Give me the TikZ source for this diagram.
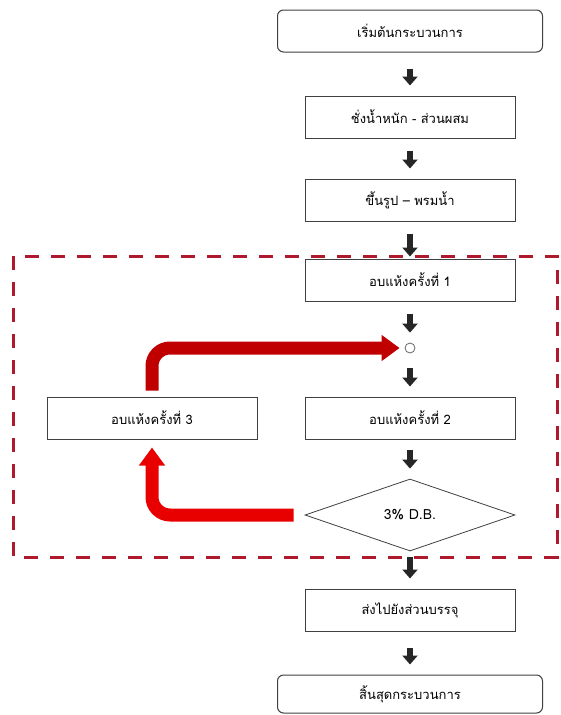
\documentclass[tikz,border=0pt]{standalone}
\usepackage{fontspec}
\setmainfont[Script=Thai]{Loma}
\usetikzlibrary{positioning,shapes.geometric,arrows.meta}

\definecolor{loopdark}{RGB}{192,0,0}
\definecolor{loopred}{RGB}{232,0,0}
\definecolor{framered}{RGB}{175,25,45}

\tikzstyle{proc-block}=[draw=black!75,line width=1pt,fill=white,minimum width=210pt,minimum height=42pt,inner sep=2pt,font=\fontsize{13}{15}\selectfont]
\tikzstyle{term-block}=[proc-block,rounded corners=6pt,minimum width=265pt]
\tikzstyle{test-block}=[draw=black!75,line width=0.8pt,fill=white,diamond,aspect=2.9,minimum width=210pt,minimum height=72pt,inner sep=0pt,font=\fontsize{14}{16}\selectfont]
\tikzstyle{join-dot}=[draw=black!60,line width=0.8pt,fill=white,circle,minimum size=10pt,inner sep=0pt]
\tikzstyle{flow}=[line width=5.5pt,black!85,-{Triangle[width=15pt,length=9pt]},shorten <=12pt,shorten >=10pt]
\tikzstyle{back}=[line width=13pt,rounded corners=18pt,-{Triangle[width=25pt,length=18pt]}]

\begin{document}
\begin{tikzpicture}[x=1pt,y=-1pt]
    \useasboundingbox (0,0) rectangle (561,715);
    \draw[framered,line width=3pt,dash pattern=on 14pt off 12pt] (13,256) rectangle (557,557);
    \node[term-block] (start) at (410,31)                           {เริ่มต้นกระบวนการ};
    \node[proc-block] (weigh) [below of=start, node distance=86pt]  {ชั่งน้ำหนัก - ส่วนผสม};
    \node[proc-block] (shape) [below of=weigh, node distance=83pt]  {ขึ้นรูป – พรมน้ำ};
    \node[proc-block] (dry1)  [below of=shape, node distance=80pt]  {อบแห้งครั้งที่ 1};
    \node[join-dot]   (join)  [below of=dry1,  node distance=68pt]  {};
    \node[proc-block] (dry2)  [below of=join,  node distance=70pt]  {อบแห้งครั้งที่ 2};
    \node[proc-block] (dry3)  [left of=dry2,   node distance=258pt] {อบแห้งครั้งที่ 3};
    \node[test-block] (test)  [below of=dry2,  node distance=97pt]  {3\% D.B.};
    \node[proc-block] (pack)  [below of=test,  node distance=95pt]  {ส่งไปยังส่วนบรรจุ};
    \node[term-block] (stop)  [below of=pack,  node distance=84pt, minimum height=38pt] {สิ้นสุดกระบวนการ};
    \draw[flow, shorten <=16pt] (start) to (weigh);
    \draw[flow]                 (weigh) to (shape);
    \draw[flow, shorten >=2pt]  (shape) to (dry1);
    \draw[flow]                 (dry1)  to (join);
    \draw[flow, shorten <=15pt] (join)  to (dry2);
    \draw[flow, shorten <=10pt] (dry2)  to (test);
    \draw[flow, shorten <=6pt]  (test)  to (pack);
    \draw[flow, shorten <=16pt] (pack)  to (stop);
    \draw[back, loopdark, shorten <=6pt, shorten >=5pt] (dry3.north) |- (join.west);
    \draw[back, loopred, shorten <=11pt, shorten >=8pt] (test.west) -| (dry3.south);
\end{tikzpicture}
\end{document}
